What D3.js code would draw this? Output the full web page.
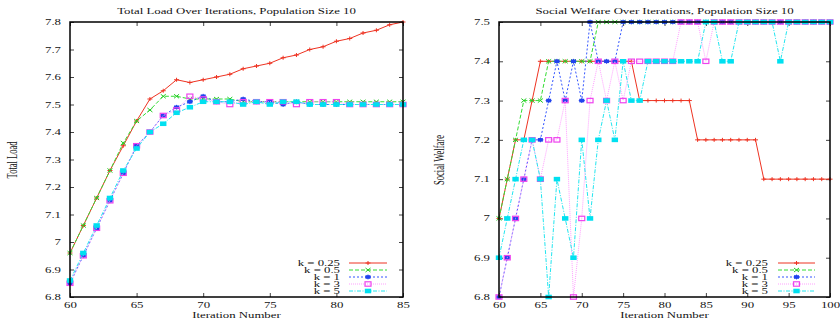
<!DOCTYPE html>
<html>
<head>
<meta charset="utf-8">
<script src="https://cdn.jsdelivr.net/npm/d3@7"></script>
<style>
  body { margin: 0; background: #fff; }
  svg text { font-family: "Liberation Serif", "DejaVu Serif", serif; fill: #111; }
</style>
</head>
<body>
<svg id="chart" width="840" height="320"></svg>
<script>
// ---- data ----
const seriesNames = ["k = 0.25", "k = 0.5", "k = 1", "k = 3", "k = 5"];

// left panel: total load, iterations 60..85
const loadIters = [60, 61, 62, 63, 64, 65, 66, 67, 68, 69, 70, 71, 72, 73, 74, 75, 76, 77, 78, 79, 80, 81, 82, 83, 84, 85];
const loadK025 = [6.96, 7.06, 7.16, 7.26, 7.35, 7.44, 7.52, 7.55, 7.59, 7.58, 7.59, 7.60, 7.61, 7.63, 7.64, 7.65, 7.67, 7.68, 7.70, 7.71, 7.73, 7.74, 7.76, 7.77, 7.79, 7.80];
const loadK05  = [6.96, 7.06, 7.16, 7.26, 7.36, 7.44, 7.48, 7.53, 7.53, 7.52, 7.52, 7.52, 7.52, 7.51, 7.51, 7.51, 7.51, 7.51, 7.51, 7.51, 7.51, 7.51, 7.51, 7.51, 7.51, 7.51];
const loadK1   = [6.85, 6.95, 7.05, 7.15, 7.25, 7.35, 7.40, 7.46, 7.49, 7.51, 7.53, 7.51, 7.51, 7.52, 7.51, 7.51, 7.50, 7.51, 7.50, 7.50, 7.50, 7.50, 7.50, 7.50, 7.50, 7.50];
const loadK3   = [6.85, 6.95, 7.05, 7.15, 7.25, 7.35, 7.40, 7.46, 7.48, 7.53, 7.52, 7.51, 7.50, 7.51, 7.51, 7.51, 7.51, 7.50, 7.51, 7.51, 7.51, 7.50, 7.50, 7.50, 7.50, 7.50];
const loadK5   = [6.86, 6.96, 7.06, 7.16, 7.26, 7.34, 7.40, 7.43, 7.47, 7.49, 7.51, 7.51, 7.51, 7.50, 7.51, 7.50, 7.51, 7.51, 7.50, 7.50, 7.50, 7.50, 7.50, 7.50, 7.50, 7.50];

// right panel: social welfare, iterations 60..100
const welfareIters = [60, 61, 62, 63, 64, 65, 66, 67, 68, 69, 70, 71, 72, 73, 74, 75, 76, 77, 78, 79, 80,
                      81, 82, 83, 84, 85, 86, 87, 88, 89, 90, 91, 92, 93, 94, 95, 96, 97, 98, 99, 100];
const welfareK025 = [7.0, 7.1, 7.2, 7.2, 7.3, 7.4, 7.4, 7.4, 7.4, 7.4, 7.4, 7.4, 7.4, 7.4, 7.4, 7.4, 7.4, 7.3, 7.3, 7.3, 7.3,
                     7.3, 7.3, 7.3, 7.2, 7.2, 7.2, 7.2, 7.2, 7.2, 7.2, 7.2, 7.1, 7.1, 7.1, 7.1, 7.1, 7.1, 7.1, 7.1, 7.1];
const welfareK05  = [7.0, 7.1, 7.2, 7.3, 7.3, 7.3, 7.4, 7.4, 7.4, 7.4, 7.4, 7.4, 7.5, 7.5, 7.5, 7.5, 7.5, 7.5, 7.5, 7.5, 7.5,
                     7.5, 7.5, 7.5, 7.5, 7.5, 7.5, 7.5, 7.5, 7.5, 7.5, 7.5, 7.5, 7.5, 7.5, 7.5, 7.5, 7.5, 7.5, 7.5, 7.5];
const welfareK1   = [6.8, 6.9, 7.0, 7.1, 7.2, 7.2, 7.3, 7.4, 7.3, 7.4, 7.3, 7.5, 7.4, 7.4, 7.4, 7.5, 7.5, 7.5, 7.5, 7.5, 7.5,
                     7.5, 7.5, 7.5, 7.5, 7.5, 7.5, 7.5, 7.5, 7.5, 7.5, 7.5, 7.5, 7.5, 7.5, 7.5, 7.5, 7.5, 7.5, 7.5, 7.5];
const welfareK3   = [6.8, 6.9, 7.0, 7.1, 7.2, 7.1, 7.2, 7.2, 7.3, 6.8, 7.0, 7.3, 7.4, 7.3, 7.4, 7.3, 7.4, 7.4, 7.4, 7.4, 7.4,
                     7.4, 7.5, 7.5, 7.5, 7.4, 7.5, 7.5, 7.5, 7.5, 7.5, 7.5, 7.5, 7.5, 7.5, 7.5, 7.5, 7.5, 7.5, 7.5, 7.5];
const welfareK5   = [6.9, 7.0, 7.1, 7.2, 7.2, 7.1, 6.8, 7.1, 7.0, 6.9, 7.2, 7.0, 7.2, 7.3, 7.2, 7.4, 7.3, 7.3, 7.4, 7.4, 7.4,
                     7.4, 7.4, 7.4, 7.4, 7.5, 7.5, 7.4, 7.4, 7.5, 7.5, 7.5, 7.5, 7.5, 7.4, 7.5, 7.5, 7.5, 7.5, 7.5, 7.5];

const loadXTicks = [60, 65, 70, 75, 80, 85];
const loadYTicks = [6.8, 6.9, 7.0, 7.1, 7.2, 7.3, 7.4, 7.5, 7.6, 7.7, 7.8];
const welfareXTicks = [60, 65, 70, 75, 80, 85, 90, 95, 100];
const welfareYTicks = [6.8, 6.9, 7.0, 7.1, 7.2, 7.3, 7.4, 7.5];

// ---- styles (gnuplot-like) ----
const lineColors = ["#ee3322", "#33dd33", "#3355ff", "#ffa0ff", "#22e6f0"];
const markColors = ["#ee3322", "#22cc22", "#2244ee", "#ee44ee", "#00e0f0"];
const dashes = [null, "4,2", "2,2", "1,1", "4,1.5,1,1.5"];
const markers = ["plus", "cross", "star", "box", "fbox"];
const SX = 1.6;      // reference text is stretched sideways
const FONT = 8;
const LEG_SX = 1.75; // legend text is a touch smaller, same width
const LEG_FONT = 7.3;

const svg = d3.select("#chart");

function stretchText(sel, sx) {
  sel.each(function () {
    const t = d3.select(this);
    t.attr("x", (+t.attr("x") || 0) / sx).attr("transform", `scale(${sx},1)`);
  });
}

function drawMarker(g, kind, cx, cy, color) {
  if (kind === "plus") {
    g.append("path").attr("d", `M${cx - 2.5},${cy}h5M${cx},${cy - 2}v4`)
      .attr("stroke", color).attr("stroke-width", 1).attr("fill", "none");
  } else if (kind === "cross") {
    g.append("path").attr("d", `M${cx - 2.5},${cy - 2}l5,4M${cx - 2.5},${cy + 2}l5,-4`)
      .attr("stroke", color).attr("stroke-width", 1).attr("fill", "none");
  } else if (kind === "star") {
    g.append("rect").attr("x", cx - 2.5).attr("y", cy - 1.8).attr("width", 5).attr("height", 3.6).attr("fill", color);
    g.append("path").attr("d", `M${cx - 3},${cy}h6M${cx},${cy - 2.4}v4.8`)
      .attr("stroke", color).attr("stroke-width", 1).attr("fill", "none");
  } else if (kind === "box") {
    g.append("rect").attr("x", cx - 3).attr("y", cy - 2.2).attr("width", 6).attr("height", 4.4)
      .attr("fill", "none").attr("stroke", color).attr("stroke-width", 1.2);
  } else {
    g.append("rect").attr("x", cx - 3.2).attr("y", cy - 2.3).attr("width", 6.4).attr("height", 4.6).attr("fill", color);
  }
}

function drawPanel(p) {
  const x = d3.scaleLinear().domain(p.xDomain).range([p.left, p.right]);
  const y = d3.scaleLinear().domain(p.yDomain).range([p.bottom, p.top]);
  const fmt = d => String(+d.toFixed(1));
  const g = svg.append("g");

  const axes = g.append("g");
  axes.append("g").attr("transform", `translate(0,${p.bottom})`)
    .call(d3.axisBottom(x).tickValues(p.xTicks).tickSize(-4).tickPadding(5).tickFormat(fmt));
  axes.append("g").attr("transform", `translate(0,${p.top})`)
    .call(d3.axisTop(x).tickValues(p.xTicks).tickSize(-4).tickFormat(""));
  axes.append("g").attr("transform", `translate(${p.left},0)`)
    .call(d3.axisLeft(y).tickValues(p.yTicks).tickSize(-4).tickPadding(9).tickFormat(fmt));
  axes.append("g").attr("transform", `translate(${p.right},0)`)
    .call(d3.axisRight(y).tickValues(p.yTicks).tickSize(-4).tickFormat(""));
  axes.selectAll("g").attr("font-family", null).attr("font-size", FONT);
  axes.selectAll(".domain").remove();
  axes.selectAll(".tick line").attr("stroke", "#444");
  stretchText(axes.selectAll(".tick text"), SX);

  // series: line then points, one after another
  const line = d3.line().x((d, i) => x(p.iters[i])).y(d => y(d));
  p.series.forEach((vals, si) => {
    g.append("path").datum(vals).attr("d", line)
      .attr("fill", "none").attr("stroke", lineColors[si]).attr("stroke-width", 1)
      .attr("stroke-dasharray", dashes[si]);
    const mg = g.append("g");
    vals.forEach((v, i) => drawMarker(mg, markers[si], x(p.iters[i]), y(v), markColors[si]));
  });

  g.append("rect").attr("x", p.left).attr("y", p.top)
    .attr("width", p.right - p.left).attr("height", p.bottom - p.top)
    .attr("fill", "none").attr("stroke", "#000").attr("stroke-width", 1.5);

  // legend
  const lg = g.append("g").attr("font-size", LEG_FONT);
  seriesNames.forEach((name, si) => {
    const ly = p.legendTop + si * 7;
    lg.append("text").attr("x", p.legendText).attr("y", ly + 2.6)
      .attr("text-anchor", "end").text(name)
      .call(stretchText, LEG_SX);
    lg.append("line").attr("x1", p.legendLine[0]).attr("x2", p.legendLine[1])
      .attr("y1", ly).attr("y2", ly)
      .attr("stroke", lineColors[si]).attr("stroke-width", 1).attr("stroke-dasharray", dashes[si]);
    drawMarker(lg, markers[si], (p.legendLine[0] + p.legendLine[1]) / 2, ly, markColors[si]);
  });

  const cx = (p.left + p.right) / 2;
  g.append("text").attr("transform", `translate(${cx},14) scale(${SX},1)`)
    .attr("text-anchor", "middle").attr("font-size", FONT).text(p.title);
  g.append("text").attr("transform", `translate(${cx},318) scale(${SX},1)`)
    .attr("text-anchor", "middle").attr("font-size", FONT).text("Iteration Number");
  g.append("text").attr("transform", `translate(${p.ylabelX},160) scale(${SX},1) rotate(-90)`)
    .attr("text-anchor", "middle").attr("font-size", 8.5).text(p.ylabel);
}

drawPanel({
  left: 70, right: 403, top: 22, bottom: 297,
  xDomain: [60, 85], yDomain: [6.8, 7.8],
  xTicks: loadXTicks, yTicks: loadYTicks,
  iters: loadIters,
  series: [loadK025, loadK05, loadK1, loadK3, loadK5],
  title: "Total Load Over Iterations, Population Size 10",
  ylabel: "Total Load", ylabelX: 17,
  legendTop: 263, legendText: 340, legendLine: [349, 387]
});

drawPanel({
  left: 499, right: 830, top: 22, bottom: 297,
  xDomain: [60, 100], yDomain: [6.8, 7.5],
  xTicks: welfareXTicks, yTicks: welfareYTicks,
  iters: welfareIters,
  series: [welfareK025, welfareK05, welfareK1, welfareK3, welfareK5],
  title: "Social Welfare Over Iterations, Population Size 10",
  ylabel: "Social Welfare", ylabelX: 444,
  legendTop: 263, legendText: 768, legendLine: [778, 815]
});
</script>
</body>
</html>
